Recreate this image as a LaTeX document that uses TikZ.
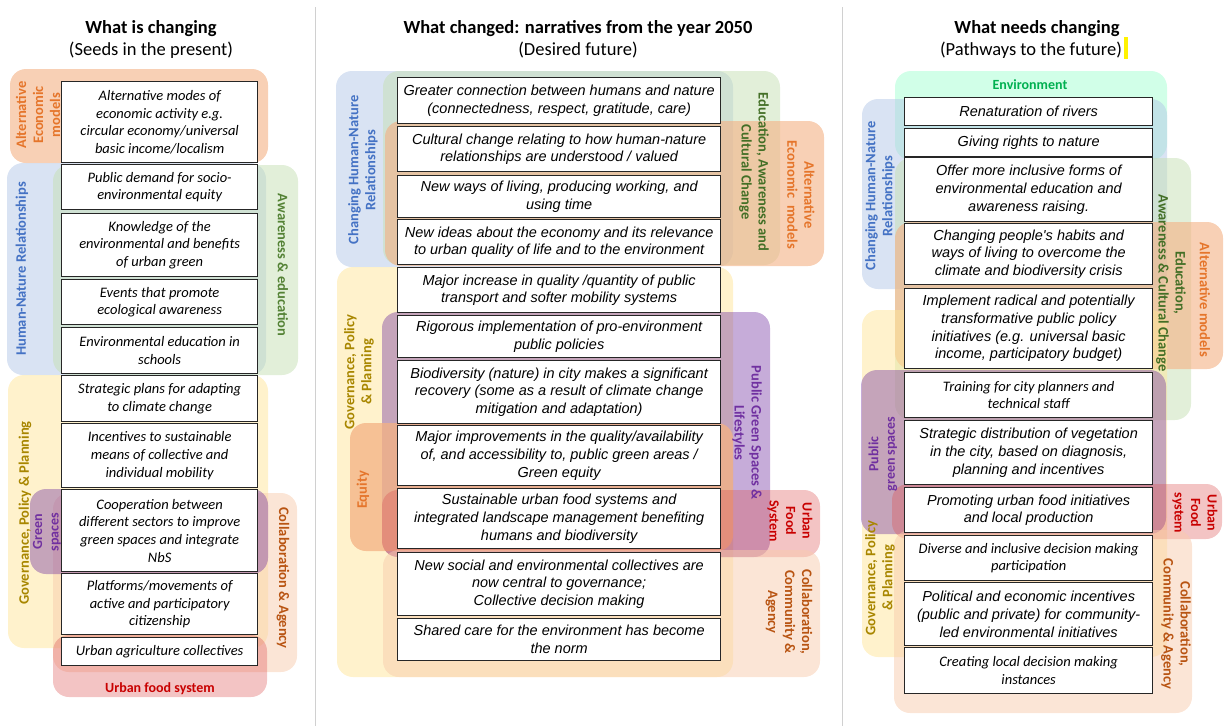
\documentclass[tikz,border=0pt]{standalone}
\usepackage{fontspec}
\setmainfont{Carlito}
\newfontfamily\arialfont{Liberation Sans}
\definecolor{hnBlue}{HTML}{B4C7E7}
\definecolor{hnBlueTxt}{HTML}{4472C4}
\definecolor{awGreen}{HTML}{C5E0B4}
\definecolor{awGreenTxt}{HTML}{548235}
\definecolor{awDarkTxt}{HTML}{436F26}
\definecolor{aeOrange}{HTML}{F4B183}
\definecolor{aeOrangeTxt}{HTML}{E5752B}
\definecolor{gvYellow}{HTML}{FFE699}
\definecolor{gvYellowTxt}{HTML}{A88600}
\definecolor{gsPurple}{HTML}{7030A0}
\definecolor{caPeach}{HTML}{F8CBAD}
\definecolor{caBrownTxt}{HTML}{B85412}
\definecolor{ufRed}{HTML}{DD5555}
\definecolor{ufRedTxt}{HTML}{C80000}
\definecolor{envMint}{HTML}{99FFCC}
\definecolor{envGreenTxt}{HTML}{00B050}
\definecolor{sepGray}{HTML}{D0D0D0}

\begin{document}
\begin{tikzpicture}[
    x = 1pt, y = -1pt,
    zone/.style = {rounded corners=16pt},
    hnr/.style = {zone, fill=hnBlue, fill opacity=0.5},
    awe/.style = {zone, fill=awGreen, fill opacity=0.5},
    aem/.style = {zone, fill=aeOrange, fill opacity=0.6},
    gpp/.style = {zone, fill=gvYellow, fill opacity=0.5},
    pgs/.style = {zone, fill=gsPurple, fill opacity=0.4},
    cca/.style = {zone, fill=caPeach, fill opacity=0.5},
    ufs/.style = {zone, fill=ufRed, fill opacity=0.35},
    eqt/.style = {zone, fill=aeOrange, fill opacity=0.75},
    env/.style = {zone, fill=envMint, fill opacity=0.45},
    tag/.style = {font=\bfseries\fontsize{14.5}{17}\selectfont, align=center, inner sep=0pt},
    tagb/.style = {tag, font=\bfseries\fontsize{14}{16.5}\selectfont},
    lcard/.style = {draw=black!85, line width=1.3pt, fill=white, anchor=north west,
        align=center, inner sep=1pt, minimum width=196pt,
        font=\itshape\fontsize{14.5}{17.7}\selectfont},
    mcard/.style = {lcard, minimum width=323pt,
        font=\arialfont\itshape\fontsize{14.5}{17.7}\selectfont},
    rcard/.style = {mcard, minimum width=248pt},
    rcardc/.style = {rcard, font=\itshape\fontsize{14.5}{17.7}\selectfont},
    head/.style = {anchor=base, font=\bfseries\fontsize{18.5}{22}\selectfont},
    subhead/.style = {anchor=base, font=\fontsize{18.5}{22}\selectfont}
  ]
  \useasboundingbox (0,0) rectangle (1225,726);

  % separators and headings
  \draw[sepGray, line width=1pt] (315,7) -- (315,726);
  \draw[sepGray, line width=1pt] (842,7) -- (842,726);
  \node[head] (h1) at (151,33) {What is changing};
  \node[subhead] (s1) at (151,55) {(Seeds in the present)};
  \node[head] (h2) at (578,33) {What changed: narratives from the year 2050};
  \node[subhead] (s2) at (578,55) {(Desired future)};
  \node[head] (h3) at (1037,33) {What needs changing};
  \node[subhead] (s3) at (1031,55) {(Pathways to the future)};
  \fill[yellow] (1124,37) rectangle (1128,59);

  % left column: zones
  \fill[aem] (10,69) rectangle (268,163);
  \fill[hnr] (7,163) rectangle (266,375);
  \fill[awe] (53,165) rectangle (298,375);
  \fill[gpp] (8,375) rectangle (268,648);
  \fill[cca] (53,493) rectangle (297,672);
  \fill[ufs] (53,635) rectangle (267,697);
  \fill[pgs] (30,489) rectangle (268,574);

  \node[tag, text=aeOrangeTxt, rotate=90] (lAEM) at (38,115) {Alternative\\Economic\\models};
  \node[tag, text=hnBlueTxt, rotate=90] (lHNR) at (22,269) {Human-Nature Relationships};
  \node[tag, text=awGreenTxt, rotate=-90] (lAWE) at (283,265) {Awareness \& education};
  \node[tag, text=gvYellowTxt, rotate=90] (lGPP) at (25,513) {Governance, Policy \& Planning};
  \node[tagb, text=gsPurple, rotate=90] (lPGS) at (47,532) {Green\\spaces};
  \node[tag, text=caBrownTxt, rotate=-90] (lCCA) at (283,578) {Collaboration \& Agency};
  \node[tagb, text=ufRedTxt] (lUFS) at (160,689) {Urban food system};

  % left column: seeds
  \node[lcard, minimum height=81pt] (l1) at (61,81) {Alternative modes of\\economic activity e.g.\\circular economy/universal\\basic income/localism};
  \node[lcard, minimum height=45pt] (l2) at (61,164) {Public demand for socio-\\environmental equity};
  \node[lcard, minimum height=63pt] (l3) at (61,213) {Knowledge of the\\environmental and benefits\\of urban green};
  \node[lcard, minimum height=45pt] (l4) at (61,279) {Events that promote\\ecological awareness};
  \node[lcard, minimum height=46pt] (l5) at (61,327) {Environmental education in\\schools};
  \node[lcard, minimum height=46pt] (l6) at (61,375) {Strategic plans for adapting\\to climate change};
  \node[lcard, minimum height=64pt] (l7) at (61,423) {Incentives to sustainable\\means of collective and\\individual mobility};
  \node[lcard, minimum height=82pt] (l8) at (61,489) {Cooperation between\\different sectors to improve\\green spaces and integrate\\NbS};
  \node[lcard, minimum height=61pt] (l9) at (61,573) {Platforms/movements of\\active and participatory\\citizenship};
  \node[lcard, minimum height=28pt] (l10) at (61,637) {Urban agriculture collectives};

  % middle column: zones
  \fill[hnr] (336,71) rectangle (733,267);
  \fill[awe] (383,71) rectangle (780,265);
  \fill[aem] (385,121) rectangle (824,266);
  \fill[gpp] (337,267) rectangle (733,677);
  \fill[pgs] (382,312) rectangle (770,557);
  \fill[eqt] (350,423) rectangle (733,551);
  \fill[ufs] (382,490) rectangle (820,557);
  \fill[cca] (383,550) rectangle (820,677);

  \node[tag, text=hnBlueTxt, rotate=90] (mHNR) at (363,170) {Changing Human-Nature\\Relationships};
  \node[tag, text=awDarkTxt, rotate=-90] (mAWE) at (754,172) {Education, Awareness and\\Cultural Change};
  \node[tag, text=aeOrangeTxt, rotate=-90] (mAEM) at (801,195) {Alternative\\Economic\ \ models};
  \node[tag, text=gvYellowTxt, rotate=90] (mGPP) at (359,372) {Governance, Policy\\\& Planning};
  \node[tag, text=gsPurple, rotate=-90] (mPGS) at (747,433) {Public Green Spaces \&\\Lifestyles};
  \node[tag, text=aeOrangeTxt, rotate=90] (mEQT) at (363,490) {Equity};
  \node[tagb, text=ufRedTxt, rotate=-90] (mUFS) at (790,521) {Urban\\Food\\System};
  \node[tag, text=caBrownTxt, rotate=-90] (mCCA) at (789,612) {Collaboration,\\Community \&\\Agency};

  % middle column: narratives
  \node[mcard, minimum height=46pt] (m1) at (397,77) {Greater connection between humans and nature\\(connectedness, respect, gratitude, care)};
  \node[mcard, minimum height=45pt] (m2) at (397,126) {Cultural change relating to how human-nature\\relationships are understood / valued};
  \node[mcard, minimum height=42pt] (m3) at (397,175) {New ways of living, producing working, and\\using time};
  \node[mcard, minimum height=45pt] (m4) at (397,219) {New ideas about the economy and its relevance\\to urban quality of life and to the environment};
  \node[mcard, minimum height=45pt] (m5) at (397,267) {Major increase in quality /quantity of public\\transport and softer mobility systems};
  \node[mcard, minimum height=42pt] (m6) at (397,315) {Rigorous implementation of pro-environment\\public policies};
  \node[mcard, minimum height=63pt] (m7) at (397,360) {Biodiversity (nature) in city makes a significant\\recovery (some as a result of climate change\\mitigation and adaptation)};
  \node[mcard, minimum height=60pt] (m8) at (397,425) {Major improvements in the quality/availability\\of, and accessibility to, public green areas /\\Green equity};
  \node[mcard, minimum height=60pt] (m9) at (397,488) {Sustainable urban food systems and\\integrated landscape management benefiting\\humans and biodiversity};
  \node[mcard, minimum height=63pt] (m10) at (397,552) {New social and environmental collectives are\\now central to governance;\\Collective decision making};
  \node[mcard, minimum height=42pt] (m11) at (397,618) {Shared care for the environment has become\\the norm};

  % right column: zones
  \fill[env] (895,71) rectangle (1167,160);
  \fill[hnr] (862,99) rectangle (1167,289);
  \fill[awe] (895,158) rectangle (1191,420);
  \fill[aem] (895,222) rectangle (1223,369);
  \fill[gpp] (862,310) rectangle (1167,657);
  \fill[pgs] (861,370) rectangle (1166,534);
  \fill[ufs] (892,484) rectangle (1222,539);
  \fill[cca] (894,530) rectangle (1192,713);

  \node[tagb, text=envGreenTxt] (rENV) at (1030,85) {Environment};
  \node[tag, text=hnBlueTxt, rotate=90] (rHNR) at (880,196) {Changing Human-Nature\\Relationships};
  \node[tag, text=awDarkTxt, rotate=-90] (rAWE) at (1171,283) {Education,\\Awareness \& Cultural Change};
  \node[tag, text=aeOrangeTxt, rotate=-90] (rAEM) at (1205,300) {Alternative models};
  \node[tag, text=gvYellowTxt, rotate=90] (rGPP) at (880,578) {Governance, Policy\\\& Planning};
  \node[tagb, text=gsPurple, rotate=90] (rPGS) at (883,454) {Public\\green spaces};
  \node[tagb, text=ufRedTxt, rotate=-90] (rUFS) at (1195,513) {Urban\\Food\\system};
  \node[tag, text=caBrownTxt, rotate=-90] (rCCA) at (1176,624) {Collaboration,\\Community \& Agency};

  % right column: pathways
  \node[rcard, minimum height=28pt] (r1) at (904,97) {Renaturation of rivers};
  \node[rcard, minimum height=28pt] (r2) at (904,128) {Giving rights to nature};
  \node[rcard, minimum height=64pt] (r3) at (904,157) {Offer more inclusive forms of\\environmental education and\\awareness raising.};
  \node[rcard, minimum height=61pt] (r4) at (904,223) {Changing people's habits and\\ways of living to overcome the\\climate and biodiversity crisis};
  \node[rcard, minimum height=80pt] (r5) at (904,288) {Implement radical and potentially\\transformative public policy\\initiatives (e.g. universal basic\\income, participatory budget)};
  \node[rcardc, minimum height=45pt] (r6) at (904,372) {Training for city planners and\\technical staff};
  \node[rcard, minimum height=64pt] (r7) at (904,420) {Strategic distribution of vegetation\\in the city, based on diagnosis,\\planning and incentives};
  \node[rcard, minimum height=45pt] (r8) at (904,487) {Promoting urban food initiatives\\and local production};
  \node[rcardc, minimum height=45pt] (r9) at (904,535) {Diverse and inclusive decision making\\participation};
  \node[rcard, minimum height=63pt] (r10) at (904,582) {Political and economic incentives\\(public and private) for community-\\led environmental initiatives};
  \node[rcardc, minimum height=46pt] (r11) at (904,647) {Creating local decision making\\instances};
\end{tikzpicture}
\end{document}
